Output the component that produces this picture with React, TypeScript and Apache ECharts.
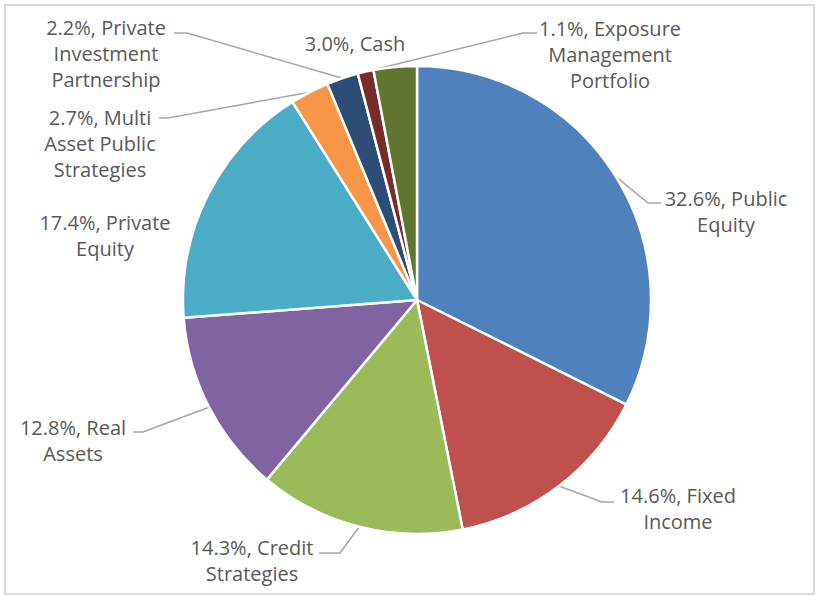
import React, { useEffect, useRef } from "react";
import * as echarts from "echarts";

// ---- data ----
const categories = [
  "Public Equity",
  "Fixed Income",
  "Credit Strategies",
  "Real Assets",
  "Private Equity",
  "Multi Asset Public Strategies",
  "Private Investment Partnership",
  "Exposure Management Portfolio",
  "Cash",
];
const values = [32.6, 14.6, 14.3, 12.8, 17.4, 2.7, 2.2, 1.1, 3.0];
// how each category name wraps in its label
const wrappedNames = [
  "Public\nEquity",
  "Fixed\nIncome",
  "Credit\nStrategies",
  "Real\nAssets",
  "Private\nEquity",
  "Multi\nAsset Public\nStrategies",
  "Private\nInvestment\nPartnership",
  "Exposure\nManagement\nPortfolio",
  "Cash",
];

// ---- styles / layout ----
const colors = [
  "#4F81BD",
  "#C0504D",
  "#9BBB59",
  "#8064A2",
  "#4BACC6",
  "#F79646",
  "#2C4D75",
  "#772C2A",
  "#5F7530",
];
const CX = 417;
const CY = 300;
const R = 234;
const LINE_H = 26;
// label block: centre x, top y; leader: [bend point, end point] or null
const labelPos: { x: number; top: number; leader: number[][] | null }[] = [
  { x: 726, top: 185, leader: [[648, 203], [661, 203]] },
  { x: 678, top: 482, leader: [[602, 502], [614, 502]] },
  { x: 252, top: 534, leader: [[340, 553], [319, 553]] },
  { x: 73, top: 414, leader: [[143, 432], [133, 432]] },
  { x: 105, top: 209, leader: null },
  { x: 100, top: 104, leader: [[168, 118], [159, 118]] },
  { x: 106, top: 14, leader: [[187, 33], [174, 33]] },
  { x: 610, top: 15, leader: [[523, 33], [537, 33]] },
  { x: 355, top: 30, leader: null },
];

export default function App() {
  const ref = useRef<HTMLDivElement>(null);
  useEffect(() => {
    if (!ref.current) return;
    const chart = echarts.init(ref.current, null, { renderer: "svg" });
    const total = values.reduce((a, b) => a + b, 0);
    const midAngle = (i: number) => {
      let before = 0;
      for (let k = 0; k < i; k++) before += values[k];
      return ((before + values[i] / 2) / total) * Math.PI * 2;
    };
    chart.setOption({
      animation: false,
      backgroundColor: "#ffffff",
      graphic: [
        {
          type: "rect",
          shape: { x: 5, y: 5, width: 809, height: 589 },
          style: { fill: "none", stroke: "#D9D9D9", lineWidth: 2 },
          silent: true,
        },
      ],
      series: [
        {
          type: "pie",
          center: [CX, CY],
          radius: R,
          startAngle: 90,
          clockwise: true,
          avoidLabelOverlap: false,
          itemStyle: { borderColor: "#ffffff", borderWidth: 2.5 },
          label: {
            show: true,
            position: "outside",
            color: "#595959",
            fontFamily: "Open Sans",
            fontSize: 20,
            lineHeight: LINE_H,
            align: "center",
            formatter: (p: any) =>
              `${values[p.dataIndex].toFixed(1)}%, ${wrappedNames[p.dataIndex]}`,
          },
          labelLine: {
            show: true,
            lineStyle: { color: "#A6A6A6", width: 1.5 },
          },
          labelLayout: (params: any) => {
            const i = params.dataIndex;
            const lp = labelPos[i];
            const a = midAngle(i);
            const sx = CX + R * Math.sin(a);
            const sy = CY - R * Math.cos(a);
            const out: any = {
              x: lp.x,
              y: lp.top,
              align: "center",
              verticalAlign: "top",
            };
            if (lp.leader) {
              out.labelLinePoints = [[sx, sy], lp.leader[0], lp.leader[1]];
            }
            return out;
          },
          data: categories.map((name, i) => ({
            name,
            value: values[i],
            itemStyle: { color: colors[i] },
            labelLine: { show: !!labelPos[i].leader },
          })),
        },
      ],
    });
    return () => chart.dispose();
  }, []);
  return (
    <div
      ref={ref}
      style={{ position: "fixed", left: 0, top: 0, width: 822, height: 596 }}
    />
  );
}
